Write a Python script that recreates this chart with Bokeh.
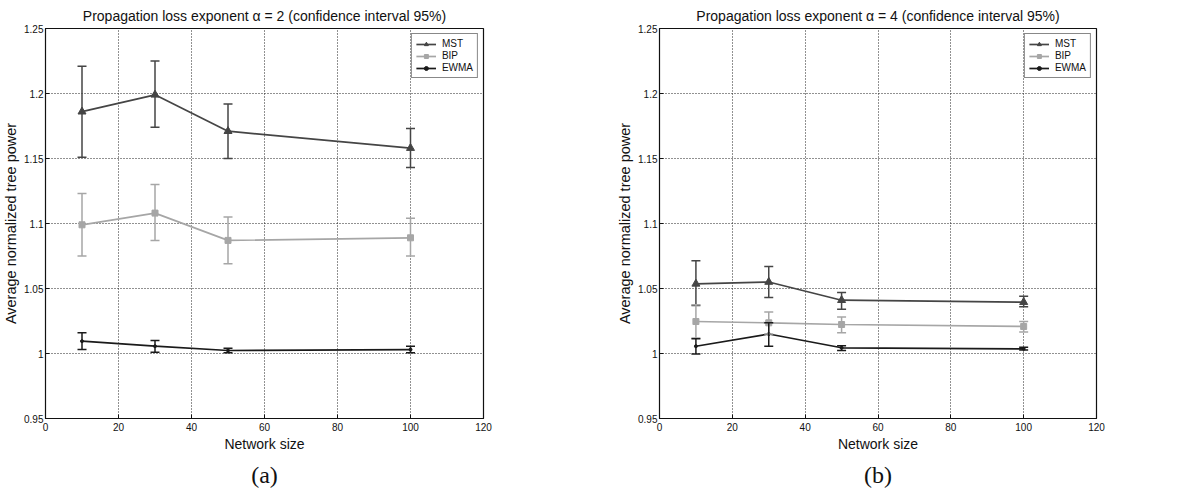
from bokeh.plotting import figure
from bokeh.layouts import row
from bokeh.models import (ColumnDataSource, Whisker, TeeHead, Range1d, Title,
                          FixedTicker, Legend, LegendItem)
from bokeh.embed import file_html
from bokeh.resources import INLINE

# ---------------- data ----------------
network_size = [10, 30, 50, 100]
series_names = ["MST", "BIP", "EWMA"]

a2_mst = [1.186, 1.199, 1.171, 1.158]
a2_mst_lo = [1.151, 1.174, 1.150, 1.143]
a2_mst_hi = [1.221, 1.225, 1.192, 1.173]
a2_bip = [1.099, 1.108, 1.087, 1.089]
a2_bip_lo = [1.075, 1.087, 1.069, 1.075]
a2_bip_hi = [1.123, 1.130, 1.105, 1.104]
a2_ewma = [1.0095, 1.0056, 1.0023, 1.003]
a2_ewma_lo = [1.003, 1.001, 1.0005, 1.0005]
a2_ewma_hi = [1.016, 1.010, 1.004, 1.0055]

a4_mst = [1.0536, 1.055, 1.041, 1.0395]
a4_mst_lo = [1.037, 1.043, 1.034, 1.036]
a4_mst_hi = [1.0713, 1.067, 1.047, 1.044]
a4_bip = [1.0246, 1.0236, 1.0223, 1.0208]
a4_bip_lo = [1.012, 1.015, 1.016, 1.0165]
a4_bip_hi = [1.0375, 1.032, 1.028, 1.0246]
a4_ewma = [1.0056, 1.015, 1.0044, 1.0036]
a4_ewma_lo = [0.9997, 1.0056, 1.0023, 1.0026]
a4_ewma_hi = [1.0113, 1.0236, 1.006, 1.0049]

x_ticks = [0, 20, 40, 60, 80, 100, 120]
y_ticks = [0.95, 1.0, 1.05, 1.1, 1.15, 1.2, 1.25]
y_tick_labels = ["0.95", "1", "1.05", "1.1", "1.15", "1.2", "1.25"]

titles = ["Propagation loss exponent \u03b1 = 2 (confidence interval 95%)",
          "Propagation loss exponent \u03b1 = 4 (confidence interval 95%)"]
captions = ["(a)", "(b)"]

FONT = "Liberation Sans"
COLORS = {"MST": "#454545", "BIP": "#a6a6a6", "EWMA": "#1a1a1a"}


def make_panel(title, caption, data, width, b_left, b_right):
    p = figure(width=width, height=497, output_backend="svg", toolbar_location=None,
               x_range=Range1d(0, 120), y_range=Range1d(0.95, 1.25),
               min_border_left=b_left, min_border_right=b_right,
               min_border_top=28, min_border_bottom=79)
    p.title = None
    t = Title(text=title, align="center", text_font=FONT, text_font_size="14px",
              text_font_style="normal", text_color="#111111", standoff=9)
    p.add_layout(t, "above")
    cap = Title(text=caption, align="center", text_font="Liberation Serif",
                text_font_size="24px", text_font_style="normal",
                text_color="#111111", standoff=10)
    p.add_layout(cap, "below")

    p.outline_line_color = "#111111"
    p.outline_line_width = 1.2
    p.background_fill_color = "white"
    p.border_fill_color = "white"

    for ax in (p.xaxis, p.yaxis):
        ax.axis_line_color = "#111111"
        ax.major_tick_in = 4
        ax.major_tick_out = 0
        ax.minor_tick_line_color = None
        ax.major_tick_line_color = "#111111"
        ax.major_label_text_font = FONT
        ax.major_label_text_font_size = "10px"
        ax.major_label_text_color = "#111111"
        ax.axis_label_text_font = FONT
        ax.axis_label_text_font_style = "normal"
        ax.axis_label_text_color = "#111111"
    p.xaxis.ticker = FixedTicker(ticks=x_ticks)
    p.yaxis.ticker = FixedTicker(ticks=y_ticks)
    p.yaxis.major_label_overrides = {v: s for v, s in zip(y_ticks, y_tick_labels)}
    p.xaxis.axis_label = "Network size"
    p.yaxis.axis_label = "Average normalized tree power"
    p.xaxis.axis_label_text_font_size = "14px"
    p.yaxis.axis_label_text_font_size = "14.5px"
    p.xaxis.major_label_standoff = 4
    p.yaxis.major_label_standoff = 2
    p.xaxis.axis_label_standoff = 2
    p.yaxis.axis_label_standoff = 2

    for g in (p.xgrid, p.ygrid):
        g.grid_line_color = "#222222"
        g.grid_line_dash = "1 2"
        g.grid_line_width = 1

    items = []
    for name in series_names:
        y, lo, hi = data[name]
        c = COLORS[name]
        src = ColumnDataSource(dict(x=network_size, y=y, lo=lo, hi=hi))
        w = Whisker(base="x", lower="lo", upper="hi", source=src,
                    line_color=c, line_width=1.5, level="glyph",
                    upper_head=TeeHead(size=9, line_color=c, line_width=1.5),
                    lower_head=TeeHead(size=9, line_color=c, line_width=1.5))
        p.add_layout(w)
        ln = p.line("x", "y", source=src, line_color=c, line_width=1.7)
        if name == "MST":
            mk = p.scatter("x", "y", source=src, marker="triangle", size=8,
                           fill_color=c, line_color=c)
        elif name == "BIP":
            mk = p.scatter("x", "y", source=src, marker="square", size=6,
                           fill_color=c, line_color=c)
        else:
            mk = p.scatter("x", "y", source=src, marker="circle", size=3,
                           fill_color=c, line_color=c)
        items.append(LegendItem(label=name, renderers=[ln, mk]))

    leg = Legend(items=items, location="top_right", margin=5, padding=4,
                 spacing=1, label_height=10, glyph_height=10, glyph_width=20,
                 label_standoff=6, label_text_font=FONT,
                 label_text_font_size="10px", label_text_color="#111111",
                 border_line_color="#111111", border_line_width=1.2,
                 background_fill_alpha=1.0)
    p.add_layout(leg, "center")
    return p


p1 = make_panel(titles[0], captions[0],
                {"MST": (a2_mst, a2_mst_lo, a2_mst_hi),
                 "BIP": (a2_bip, a2_bip_lo, a2_bip_hi),
                 "EWMA": (a2_ewma, a2_ewma_lo, a2_ewma_hi)},
                width=612, b_left=45, b_right=129)
p2 = make_panel(titles[1], captions[1],
                {"MST": (a4_mst, a4_mst_lo, a4_mst_hi),
                 "BIP": (a4_bip, a4_bip_lo, a4_bip_hi),
                 "EWMA": (a4_ewma, a4_ewma_lo, a4_ewma_hi)},
                width=569, b_left=47, b_right=85)

layout = row(p1, p2)
open("out.html", "w").write(file_html(layout, INLINE))
